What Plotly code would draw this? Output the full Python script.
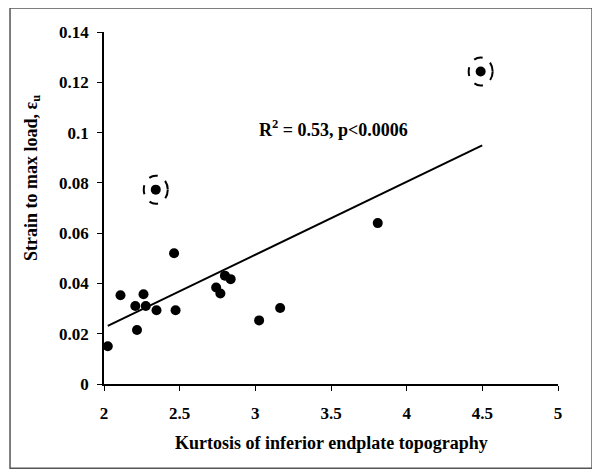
import plotly.graph_objects as go

# kurtosis of inferior endplate topography vs strain to max load
kurtosis = [2.025, 2.109, 2.207, 2.218, 2.261, 2.276, 2.347, 2.342, 2.463,
            2.473, 2.741, 2.769, 2.799, 2.837, 3.025, 3.164, 3.809, 4.489]
strain = [0.0150, 0.0353, 0.0310, 0.0215, 0.0357, 0.0310, 0.0293, 0.0773, 0.0520,
          0.0293, 0.0384, 0.0360, 0.0431, 0.0417, 0.0253, 0.0302, 0.0640, 0.1243]

# outliers marked with dashed circles
outlier_x = [2.342, 4.489]
outlier_y = [0.0773, 0.1243]

# regression line end points
trend_x = [2.025, 4.499]
trend_y = [0.0231, 0.0949]

x_ticks = [2, 2.5, 3, 3.5, 4, 4.5, 5]
y_ticks = [0, 0.02, 0.04, 0.06, 0.08, 0.1, 0.12, 0.14]

FONT = "Liberation Serif"
tick_font = dict(family=FONT, size=17, color="black", weight="bold")
title_font = dict(family=FONT, size=18, color="black", weight="bold")

fig = go.Figure()

fig.add_trace(go.Scatter(
    x=trend_x, y=trend_y,
    mode='lines',
    line=dict(color='black', width=2),
    showlegend=False
))

fig.add_trace(go.Scatter(
    x=kurtosis, y=strain,
    mode='markers',
    marker=dict(color='black', size=10),
    showlegend=False
))

for ox, oy in zip(outlier_x, outlier_y):
    fig.add_shape(
        type="circle", xref="x", yref="y",
        xsizemode="pixel", ysizemode="pixel",
        xanchor=ox, yanchor=oy,
        x0=-12, x1=12, y0=-14, y1=14,
        line=dict(color="black", width=2, dash="dash")
    )

# frame around the whole picture
fig.add_shape(
    type="rect", xref="paper", yref="paper",
    x0=-0.207, x1=1.075, y0=-0.239, y1=1.068,
    line=dict(color="#555555", width=1.5)
)

fig.add_annotation(
    x=3.518, y=0.1015, xref="x", yref="y",
    text="R<sup>2</sup> = 0.53, p&lt;0.0006",
    showarrow=False,
    font=title_font
)

# axis titles placed by hand, like the original
fig.add_annotation(
    x=-0.159, y=0.585, xref="paper", yref="paper",
    xanchor="center", yanchor="middle",
    text="Strain to max load, ε<sub>u</sub>",
    textangle=-90, showarrow=False,
    font=title_font
)

fig.add_annotation(
    x=0.5, y=-0.168, xref="paper", yref="paper",
    xanchor="center", yanchor="middle",
    text="Kurtosis of inferior endplate topography",
    showarrow=False,
    font=title_font
)

fig.update_xaxes(
    range=[2, 5],
    tickvals=x_ticks,
    ticktext=[str(v) for v in x_ticks],
    showline=True, linecolor="black", linewidth=1.5,
    ticks="outside", ticklen=5, tickcolor="black",
    ticklabelstandoff=8,
    showgrid=False, zeroline=False, automargin=False,
    tickfont=tick_font
)

fig.update_yaxes(
    range=[0, 0.14],
    tickvals=y_ticks,
    ticktext=[f"{v:g}" for v in y_ticks],
    showline=True, linecolor="black", linewidth=1.5,
    ticks="outside", ticklen=5, tickcolor="black",
    ticklabelstandoff=5,
    showgrid=False, zeroline=False, automargin=False,
    tickfont=tick_font
)

# the page adds an 8px body margin, so the figure is 8px smaller each way
fig.update_layout(
    width=592, height=468,
    margin=dict(l=96, r=42, t=24, b=92),
    plot_bgcolor="white",
    paper_bgcolor="white",
)

fig.write_html("out.html")
